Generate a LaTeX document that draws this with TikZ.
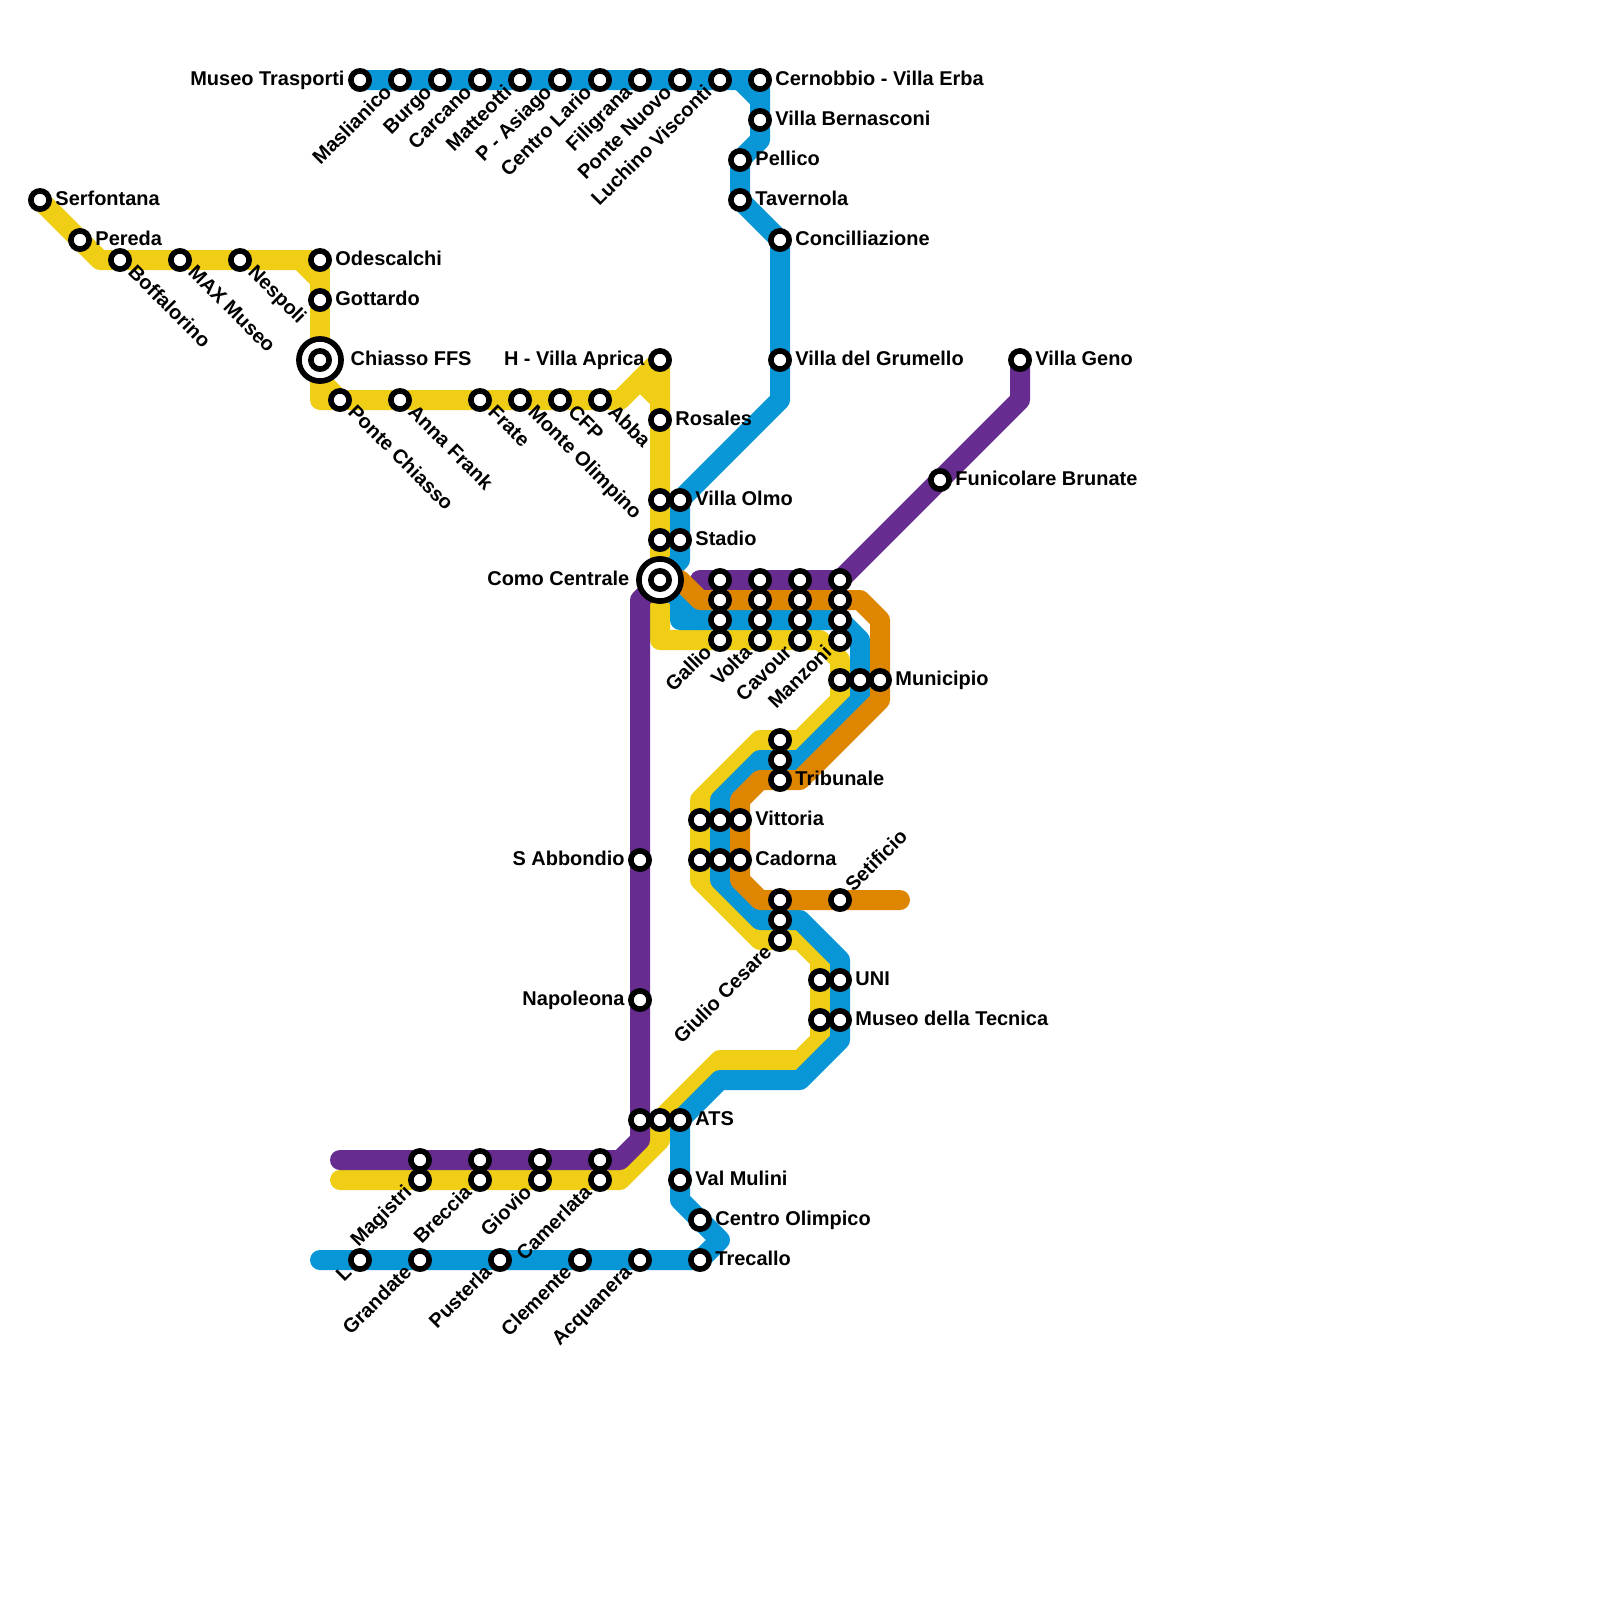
\documentclass[tikz,border=0pt]{standalone}
\usepackage{fontspec}
\setmainfont{Liberation Sans}
\usetikzlibrary{backgrounds}
\definecolor{lineyellow}{HTML}{F0CE15}
\definecolor{lineblue}{HTML}{0896D7}
\definecolor{lineorange}{HTML}{DF8600}
\definecolor{linepurple}{HTML}{662C90}

\begin{document}
\begin{tikzpicture}[x=0.25cm, y=-0.25cm,
  stn/.style={draw=black, fill=white, circle, line width=2pt, minimum size=6.5pt, inner sep=0pt, outer sep=0pt},
  bigstn/.style={draw=black, fill=white, circle, line width=2pt, minimum size=15pt, inner sep=0pt, outer sep=0pt},
  lbl/.style={font=\bfseries\fontsize{7.1}{8}\selectfont, inner sep=0pt, outer sep=0pt, text=black},
  lblR/.style={lbl, anchor=base west, xshift=5.5pt, yshift=-1.9pt},
  lblL/.style={lbl, anchor=base east, xshift=-5.5pt, yshift=-1.9pt},
  lblbigR/.style={lbl, anchor=base west, xshift=10.9pt, yshift=-1.9pt},
  lblbigL/.style={lbl, anchor=base east, xshift=-10.9pt, yshift=-1.9pt},
  lblUL/.style={lbl, anchor=base east, rotate=45, xshift=-5.2pt, yshift=-1.6pt},
  lblUR/.style={lbl, anchor=base west, rotate=45, xshift=5.2pt, yshift=-1.6pt},
  lblDR/.style={lbl, anchor=base west, rotate=-45, xshift=5.2pt, yshift=-1.6pt},
  metro/.style={line width=7.11pt, line cap=round, line join=round},
  yline/.style={metro, lineyellow},
  bline/.style={metro, lineblue},
  oline/.style={metro, lineorange},
  pline/.style={metro, linepurple}]
\useasboundingbox (0,0) rectangle (80,80);

% yellow stations
\node[stn] (serfontana) at (2,10) {}; \node[lblR] (serfontana-t) at (serfontana) {Serfontana};
\node[stn] (pereda) at (4,12) {}; \node[lblR] (pereda-t) at (pereda) {Pereda};
\node[stn] (boffalorino) at (6,13) {}; \node[lblDR] (boffalorino-t) at (boffalorino) {Boffalorino};
\node[stn] (maxmuseo) at (9,13) {}; \node[lblDR] (maxmuseo-t) at (maxmuseo) {MAX Museo};
\node[stn] (nespoli) at (12,13) {}; \node[lblDR] (nespoli-t) at (nespoli) {Nespoli};
\node[stn] (odescalchi) at (16,13) {}; \node[lblR] (odescalchi-t) at (odescalchi) {Odescalchi};
\node[stn] (gottardo) at (16,15) {}; \node[lblR] (gottardo-t) at (gottardo) {Gottardo};
\node[bigstn] (chiassoring) at (16,18) {};
\node[stn] (chiasso) at (16,18) {}; \node[lblbigR] (chiasso-t) at (chiasso) {Chiasso FFS};
\node[stn] (pontechiasso) at (17,20) {}; \node[lblDR] (pontechiasso-t) at (pontechiasso) {Ponte Chiasso};
\node[stn] (annafrank) at (20,20) {}; \node[lblDR] (annafrank-t) at (annafrank) {Anna Frank};
\node[stn] (frate) at (24,20) {}; \node[lblDR] (frate-t) at (frate) {Frate};
\node[stn] (olimpino) at (26,20) {}; \node[lblDR] (olimpino-t) at (olimpino) {Monte Olimpino};
\node[stn] (cfp) at (28,20) {}; \node[lblDR] (cfp-t) at (cfp) {CFP};
\node[stn] (abba) at (30,20) {}; \node[lblDR] (abba-t) at (abba) {Abba};
\node[stn] (aprica) at (33,18) {}; \node[lblL] (aprica-t) at (aprica) {H - Villa Aprica};
\node[stn] (rosales) at (33,21) {}; \node[lblR] (rosales-t) at (rosales) {Rosales};
\node[stn] (olmoy) at (33,25) {};
\node[stn] (stadioy) at (33,27) {};

% blue stations, top row
\node[stn] (trasporti) at (18,4) {}; \node[lblL] (trasporti-t) at (trasporti) {Museo Trasporti};
\node[stn] (maslianico) at (20,4) {}; \node[lblUL] (maslianico-t) at (maslianico) {Maslianico};
\node[stn] (burgo) at (22,4) {}; \node[lblUL] (burgo-t) at (burgo) {Burgo};
\node[stn] (carcano) at (24,4) {}; \node[lblUL] (carcano-t) at (carcano) {Carcano};
\node[stn] (matteotti) at (26,4) {}; \node[lblUL] (matteotti-t) at (matteotti) {Matteotti};
\node[stn] (asiago) at (28,4) {}; \node[lblUL] (asiago-t) at (asiago) {P - Asiago};
\node[stn] (lario) at (30,4) {}; \node[lblUL] (lario-t) at (lario) {Centro Lario};
\node[stn] (filigrana) at (32,4) {}; \node[lblUL] (filigrana-t) at (filigrana) {Filigrana};
\node[stn] (pontenuovo) at (34,4) {}; \node[lblUL] (pontenuovo-t) at (pontenuovo) {Ponte Nuovo};
\node[stn] (visconti) at (36,4) {}; \node[lblUL] (visconti-t) at (visconti) {Luchino Visconti};
\node[stn] (cernobbio) at (38,4) {}; \node[lblR] (cernobbio-t) at (cernobbio) {Cernobbio - Villa Erba};
\node[stn] (bernasconi) at (38,6) {}; \node[lblR] (bernasconi-t) at (bernasconi) {Villa Bernasconi};
\node[stn] (pellico) at (37,8) {}; \node[lblR] (pellico-t) at (pellico) {Pellico};
\node[stn] (tavernola) at (37,10) {}; \node[lblR] (tavernola-t) at (tavernola) {Tavernola};
\node[stn] (concilliazione) at (39,12) {}; \node[lblR] (concilliazione-t) at (concilliazione) {Concilliazione};
\node[stn] (grumello) at (39,18) {}; \node[lblR] (grumello-t) at (grumello) {Villa del Grumello};
\node[stn] (olmo) at (34,25) {}; \node[lblR] (olmo-t) at (olmo) {Villa Olmo};
\node[stn] (stadio) at (34,27) {}; \node[lblR] (stadio-t) at (stadio) {Stadio};

% como and the four lines east of it
\node[bigstn] (comoring) at (33,29) {};
\node[stn] (como) at (33,29) {}; \node[lblbigL] (como-t) at (como) {Como Centrale};
\node[stn] (galliop) at (36,29) {};
\node[stn] (gallioo) at (36,30) {};
\node[stn] (galliob) at (36,31) {};
\node[stn] (gallio) at (36,32) {}; \node[lblUL] (gallio-t) at (gallio) {Gallio};
\node[stn] (voltap) at (38,29) {};
\node[stn] (voltao) at (38,30) {};
\node[stn] (voltab) at (38,31) {};
\node[stn] (volta) at (38,32) {}; \node[lblUL] (volta-t) at (volta) {Volta};
\node[stn] (cavourp) at (40,29) {};
\node[stn] (cavouro) at (40,30) {};
\node[stn] (cavourb) at (40,31) {};
\node[stn] (cavour) at (40,32) {}; \node[lblUL] (cavour-t) at (cavour) {Cavour};
\node[stn] (manzonip) at (42,29) {};
\node[stn] (manzonio) at (42,30) {};
\node[stn] (manzonib) at (42,31) {};
\node[stn] (manzoni) at (42,32) {}; \node[lblUL] (manzoni-t) at (manzoni) {Manzoni};
\node[stn] (brunate) at (47,24) {}; \node[lblR] (brunate-t) at (brunate) {Funicolare Brunate};
\node[stn] (geno) at (51,18) {}; \node[lblR] (geno-t) at (geno) {Villa Geno};
\node[stn] (municipioy) at (42,34) {};
\node[stn] (municipiob) at (43,34) {};
\node[stn] (municipio) at (44,34) {}; \node[lblR] (municipio-t) at (municipio) {Municipio};
\node[stn] (tribunaley) at (39,37) {};
\node[stn] (tribunaleb) at (39,38) {};
\node[stn] (tribunale) at (39,39) {}; \node[lblR] (tribunale-t) at (tribunale) {Tribunale};
\node[stn] (vittoriay) at (35,41) {};
\node[stn] (vittoriab) at (36,41) {};
\node[stn] (vittoria) at (37,41) {}; \node[lblR] (vittoria-t) at (vittoria) {Vittoria};
\node[stn] (cadornay) at (35,43) {};
\node[stn] (cadornab) at (36,43) {};
\node[stn] (cadorna) at (37,43) {}; \node[lblR] (cadorna-t) at (cadorna) {Cadorna};
\node[stn] (cesareo) at (39,45) {};
\node[stn] (cesareb) at (39,46) {};
\node[stn] (cesare) at (39,47) {}; \node[lblUL] (cesare-t) at (cesare) {Giulio Cesare};
\node[stn] (setificio) at (42,45) {}; \node[lblUR] (setificio-t) at (setificio) {Setificio};
\node[stn] (uniy) at (41,49) {};
\node[stn] (uni) at (42,49) {}; \node[lblR] (uni-t) at (uni) {UNI};
\node[stn] (tecnicay) at (41,51) {};
\node[stn] (tecnica) at (42,51) {}; \node[lblR] (tecnica-t) at (tecnica) {Museo della Tecnica};

% south
\node[stn] (abbondio) at (32,43) {}; \node[lblL] (abbondio-t) at (abbondio) {S Abbondio};
\node[stn] (napoleona) at (32,50) {}; \node[lblL] (napoleona-t) at (napoleona) {Napoleona};
\node[stn] (atsp) at (32,56) {};
\node[stn] (atsy) at (33,56) {};
\node[stn] (ats) at (34,56) {}; \node[lblR] (ats-t) at (ats) {ATS};
\node[stn] (valmulini) at (34,59) {}; \node[lblR] (valmulini-t) at (valmulini) {Val Mulini};
\node[stn] (olimpico) at (35,61) {}; \node[lblR] (olimpico-t) at (olimpico) {Centro Olimpico};
\node[stn] (trecallo) at (35,63) {}; \node[lblR] (trecallo-t) at (trecallo) {Trecallo};
\node[stn] (magistrip) at (21,58) {};
\node[stn] (magistri) at (21,59) {}; \node[lblUL] (magistri-t) at (magistri) {Magistri};
\node[stn] (brecciap) at (24,58) {};
\node[stn] (breccia) at (24,59) {}; \node[lblUL] (breccia-t) at (breccia) {Breccia};
\node[stn] (gioviop) at (27,58) {};
\node[stn] (giovio) at (27,59) {}; \node[lblUL] (giovio-t) at (giovio) {Giovio};
\node[stn] (camerlatap) at (30,58) {};
\node[stn] (camerlata) at (30,59) {}; \node[lblUL] (camerlata-t) at (camerlata) {Camerlata};
\node[stn] (lstop) at (18,63) {}; \node[lblUL] (lstop-t) at (lstop) {L};
\node[stn] (grandate) at (21,63) {}; \node[lblUL] (grandate-t) at (grandate) {Grandate};
\node[stn] (pusterla) at (25,63) {}; \node[lblUL] (pusterla-t) at (pusterla) {Pusterla};
\node[stn] (clemente) at (29,63) {}; \node[lblUL] (clemente-t) at (clemente) {Clemente};
\node[stn] (acquanera) at (32,63) {}; \node[lblUL] (acquanera-t) at (acquanera) {Acquanera};

% free ends and forks
\coordinate (yfork1) at (15,13);
\coordinate (yfork2) at (16,14);
\coordinate (yfork3) at (16,19);
\coordinate (yfork4) at (32,19);
\coordinate (yfork5) at (33,20);
\coordinate (yend) at (17,59);
\coordinate (bfork1) at (37,4);
\coordinate (bfork2) at (38,5);
\coordinate (bfork3) at (34,30);
\coordinate (bfork4) at (35,31);
\coordinate (bend) at (16,63);
\coordinate (pstart) at (35,29);
\coordinate (pend) at (17,58);
\coordinate (oend) at (45,45);

\begin{scope}[on background layer]
\draw[yline] (serfontana.center) -- (5,13) -- (odescalchi.center) -- (chiasso.center) -- (16,20) -- (abba.center) -- (31,20) -- (aprica.center) -- (33,32) -- (41,32) -- (42,33) -- (42,35) -- (40,37) -- (38,37) -- (35,40) -- (35,44) -- (38,47) -- (40,47) -- (41,48) -- (41,52) -- (40,53) -- (36,53) -- (atsy.center) -- (33,57) -- (31,59) -- (yend);
\draw[yline] (yfork1) -- (yfork2);
\draw[yline] (yfork3) -- (pontechiasso.center);
\draw[yline] (yfork4) -- (yfork5);
\draw[bline] (trasporti.center) -- (cernobbio.center) -- (38,7) -- (37,8) -- (tavernola.center) -- (concilliazione.center) -- (39,20) -- (olmo.center) -- (34,28) -- (como.center) -- (bfork3) -- (34,31) -- (42,31) -- (43,32) -- (43,35) -- (40,38) -- (38,38) -- (36,40) -- (36,44) -- (38,46) -- (40,46) -- (42,48) -- (42,52) -- (40,54) -- (36,54) -- (ats.center) -- (34,60) -- (36,62) -- (trecallo.center) -- (bend);
\draw[bline] (bfork1) -- (bfork2);
\draw[bline] (bfork3) -- (bfork4);
\draw[pline] (pstart) -- (manzonip.center) -- (51,20) -- (geno.center);
\draw[pline] (como.center) -- (32,30) -- (32,57) -- (31,58) -- (pend);
\draw[oline] (como.center) -- (34,29) -- (35,30) -- (43,30) -- (44,31) -- (44,35) -- (40,39) -- (38,39) -- (37,40) -- (37,44) -- (38,45) -- (oend);
\end{scope}
\end{tikzpicture}
\end{document}
